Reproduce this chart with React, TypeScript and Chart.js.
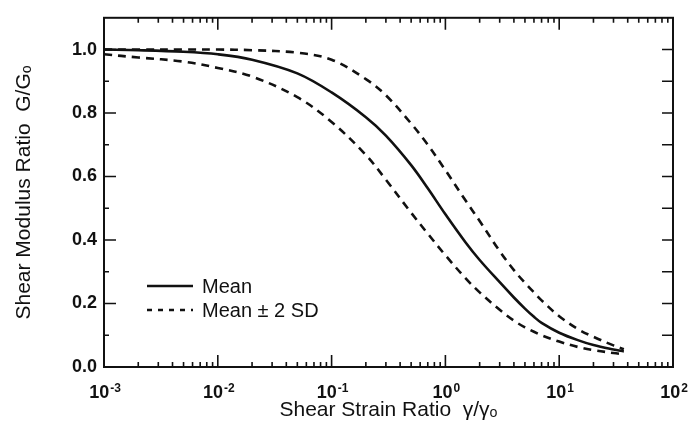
import React, { useEffect, useRef } from "react";
import { Chart, registerables } from "chart.js";

Chart.register(...registerables);

// ---- data ----
const strainRatio = [0.001, 0.002, 0.005, 0.01, 0.02, 0.05, 0.1, 0.2, 0.3, 0.5, 0.7, 1, 1.5, 2, 3, 4, 5, 6, 7, 10, 15, 20, 30, 37];
const meanRatio = [1.0, 0.998, 0.993, 0.985, 0.968, 0.925, 0.865, 0.787, 0.729, 0.636, 0.563, 0.481, 0.393, 0.337, 0.267, 0.219, 0.184, 0.158, 0.139, 0.108, 0.083, 0.069, 0.055, 0.049];
const upperRatio = [1.0, 1.0, 1.0, 1.0, 0.998, 0.99, 0.968, 0.907, 0.856, 0.767, 0.7, 0.62, 0.525, 0.46, 0.365, 0.305, 0.265, 0.235, 0.21, 0.16, 0.117, 0.095, 0.068, 0.056];
const lowerRatio = [0.985, 0.975, 0.962, 0.942, 0.915, 0.85, 0.772, 0.668, 0.59, 0.486, 0.42, 0.352, 0.28, 0.235, 0.18, 0.146, 0.125, 0.111, 0.1, 0.08, 0.062, 0.053, 0.044, 0.04];

const xDecadeTicks = [0.001, 0.01, 0.1, 1, 10, 100];
const xDecadeBase = "10";
const xDecadeExponents = ["-3", "-2", "-1", "0", "1", "2"];
const yMajorTicks = [0, 0.2, 0.4, 0.6, 0.8, 1.0];
const yMajorLabels = ["0.0", "0.2", "0.4", "0.6", "0.8", "1.0"];
const yMinorTicks = [0.1, 0.3, 0.5, 0.7, 0.9];
const legendLabels = ["Mean", "Mean ± 2 SD"];
const xTitle = "Shear Strain Ratio  γ/γₒ";
const yTitle = "Shear Modulus Ratio  G/Gₒ";

const FONT = "'Liberation Sans', Arial, Helvetica, sans-serif";
const INK = "#111";

const framePlugin = {
  id: "frameTicks",
  afterDatasetsDraw(chart: any) {
    const { ctx, chartArea } = chart;
    const { left, right, top, bottom } = chartArea;
    const xs = chart.scales.x;
    const ys = chart.scales.y;
    ctx.save();
    ctx.strokeStyle = INK;
    ctx.lineWidth = 2;
    ctx.strokeRect(left, top, right - left, bottom - top);
    ctx.lineWidth = 1.6;
    ctx.beginPath();
    // x ticks (bottom and top, inward)
    for (let i = 0; i < xDecadeTicks.length; i++) {
      const d = xDecadeTicks[i];
      const px = xs.getPixelForValue(d);
      if (i > 0 && i < xDecadeTicks.length - 1) {
        ctx.moveTo(px, bottom); ctx.lineTo(px, bottom - 12);
        ctx.moveTo(px, top); ctx.lineTo(px, top + 12);
      }
      if (i < xDecadeTicks.length - 1) {
        for (let m = 2; m <= 9; m++) {
          const mx = xs.getPixelForValue(d * m);
          ctx.moveTo(mx, bottom); ctx.lineTo(mx, bottom - 5);
          ctx.moveTo(mx, top); ctx.lineTo(mx, top + 5);
        }
      }
    }
    // y ticks
    yMajorTicks.forEach((v) => {
      const py = ys.getPixelForValue(v);
      ctx.moveTo(left, py); ctx.lineTo(left + 12, py);
      ctx.moveTo(right, py); ctx.lineTo(right - 11, py);
    });
    yMinorTicks.forEach((v) => {
      const py = ys.getPixelForValue(v);
      ctx.moveTo(left, py); ctx.lineTo(left + 5, py);
      ctx.moveTo(right, py); ctx.lineTo(right - 11, py);
    });
    ctx.stroke();

    // x tick labels: 10 with raised exponent
    ctx.fillStyle = INK;
    ctx.textBaseline = "alphabetic";
    ctx.textAlign = "left";
    xDecadeTicks.forEach((d, i) => {
      const px = xs.getPixelForValue(d);
      ctx.font = `bold 18px ${FONT}`;
      const w1 = ctx.measureText(xDecadeBase).width;
      ctx.font = `bold 12px ${FONT}`;
      const w2 = ctx.measureText(xDecadeExponents[i]).width;
      const x0 = px - (w1 + 1 + w2) / 2 + 1;
      const baseY = bottom + 31;
      ctx.font = `bold 18px ${FONT}`;
      ctx.fillText(xDecadeBase, x0, baseY);
      ctx.font = `bold 12px ${FONT}`;
      ctx.fillText(xDecadeExponents[i], x0 + w1 + 1, baseY - 6);
    });

    // legend
    const lx0 = left + 43;
    const lx1 = left + 89;
    const rows = [bottom - 81, bottom - 57];
    const sets = chart.data.datasets;
    ctx.font = `20px ${FONT}`;
    ctx.textBaseline = "middle";
    rows.forEach((ry, i) => {
      const ds = sets[i];
      ctx.beginPath();
      ctx.lineWidth = ds.borderWidth;
      ctx.setLineDash(i === 0 ? [] : [5, 6]);
      ctx.moveTo(lx0, ry);
      ctx.lineTo(lx1, ry);
      ctx.stroke();
      ctx.setLineDash([]);
      ctx.fillText(legendLabels[i], left + 98, ry + 1);
    });
    ctx.restore();
  },
};

export default function App() {
  const ref = useRef<HTMLCanvasElement | null>(null);
  useEffect(() => {
    if (!ref.current) return;
    const mk = (ys: number[]) => strainRatio.map((x, i) => ({ x, y: ys[i] }));
    const lineBase = { borderColor: INK, borderWidth: 2.6, pointRadius: 0, tension: 0.35, fill: false };
    const chart = new Chart(ref.current, {
      type: "line",
      data: {
        datasets: [
          { ...lineBase, label: legendLabels[0], data: mk(meanRatio) },
          { ...lineBase, label: legendLabels[1], data: mk(upperRatio), borderDash: [8, 6] },
          { ...lineBase, label: legendLabels[1], data: mk(lowerRatio), borderDash: [8, 6] },
        ],
      },
      options: {
        responsive: false,
        animation: false,
        events: [],
        layout: { padding: { top: 10, right: 16, left: 0, bottom: 0 } },
        plugins: { legend: { display: false }, tooltip: { enabled: false }, title: { display: false } },
        scales: {
          x: {
            type: "logarithmic",
            min: 0.001,
            max: 100,
            grid: { display: false, drawTicks: false },
            border: { display: false },
            afterBuildTicks: (s: any) => { s.ticks = xDecadeTicks.map((v) => ({ value: v })); },
            afterFit: (s: any) => { s.height = 67; },
            ticks: { display: false },
            title: { display: true, text: xTitle, color: INK, font: { family: FONT, size: 21 }, padding: { top: 0, bottom: 11 } },
          },
          y: {
            type: "linear",
            min: 0,
            max: 1.1,
            grid: { display: false, drawTicks: false },
            border: { display: false },
            afterBuildTicks: (s: any) => { s.ticks = yMajorTicks.map((v) => ({ value: v })); },
            afterFit: (s: any) => { s.width = 104; },
            ticks: {
              padding: 7,
              color: INK,
              font: { family: FONT, size: 18, weight: "bold" },
              callback: (_v: any, i: number) => yMajorLabels[i],
            },
            title: { display: true, text: yTitle, color: INK, font: { family: FONT, size: 21 }, padding: { top: 12, bottom: 0 } },
          },
        },
      },
      plugins: [framePlugin],
    } as any);
    return () => chart.destroy();
  }, []);
  return (
    <div style={{ position: "absolute", left: 0, top: 0, width: 689, height: 434, background: "#fff" }}>
      <canvas ref={ref} width={689} height={434} style={{ display: "block" }} />
    </div>
  );
}
